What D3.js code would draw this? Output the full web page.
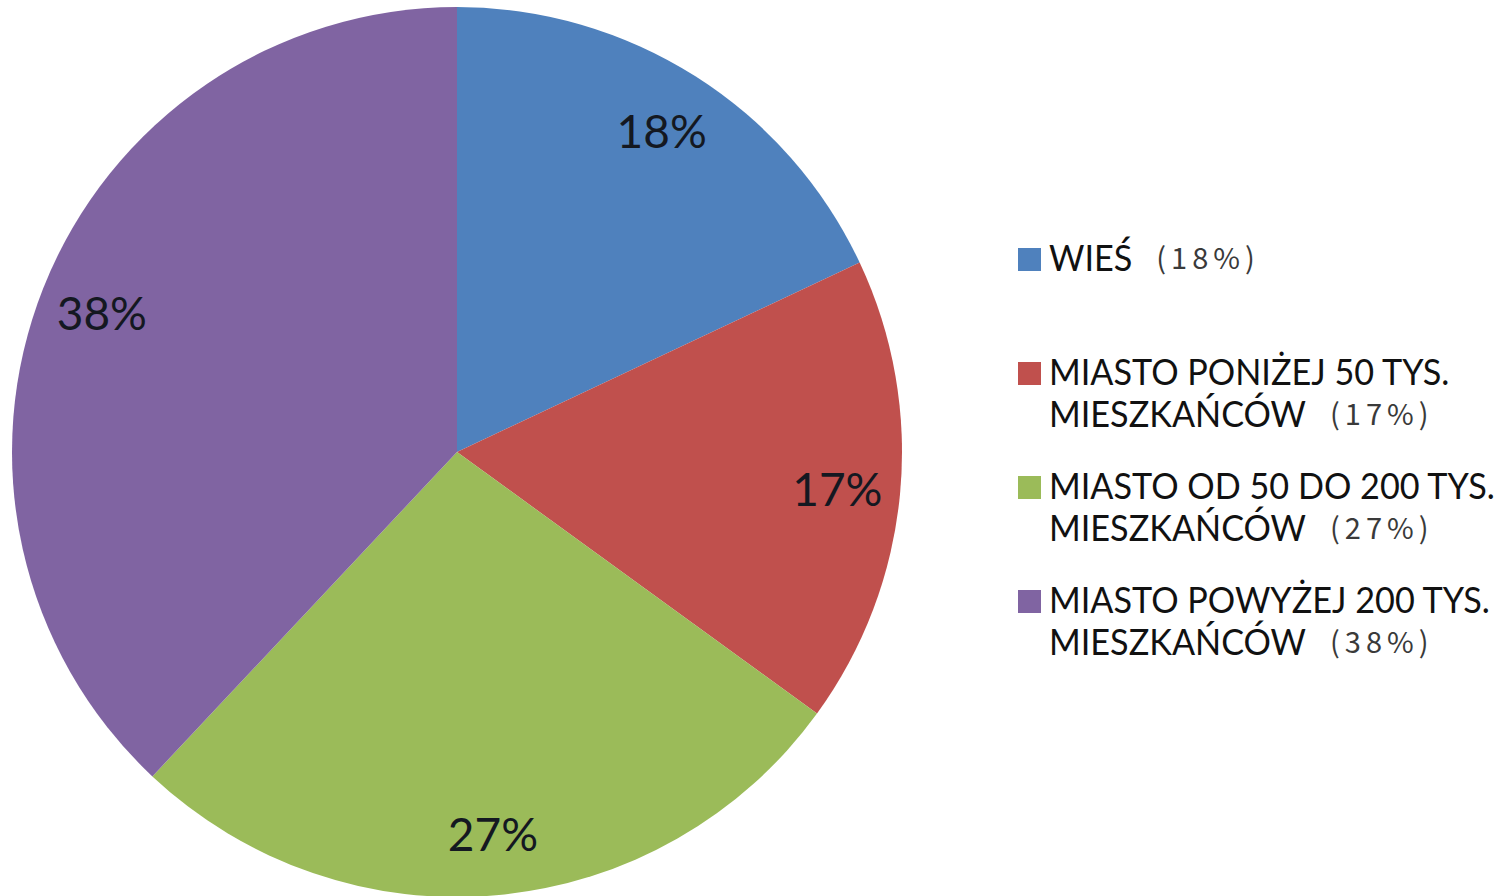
<!DOCTYPE html>
<html>
<head>
<meta charset="utf-8">
<script src="https://cdn.jsdelivr.net/npm/d3@7"></script>
<style>
  html, body { margin: 0; padding: 0; background: #fff; }
  svg { display: block; }
</style>
</head>
<body>
<div id="chart"></div>
<script>
// data
const categories = ["WIEŚ", "MIASTO PONIŻEJ 50 TYS. MIESZKAŃCÓW", "MIASTO OD 50 DO 200 TYS. MIESZKAŃCÓW", "MIASTO POWYŻEJ 200 TYS. MIESZKAŃCÓW"];
const legendLines = [
  ["WIEŚ"],
  ["MIASTO PONIŻEJ 50 TYS.", "MIESZKAŃCÓW"],
  ["MIASTO OD 50 DO 200 TYS.", "MIESZKAŃCÓW"],
  ["MIASTO POWYŻEJ 200 TYS.", "MIESZKAŃCÓW"]
];
const values = [18, 17, 27, 38];
const colors = ["#4F81BD", "#C0504D", "#9BBB59", "#8064A2"];

const width = 1499;
const height = 896;
const cx = 457, cy = 452, radius = 445;

const svg = d3.select("#chart")
  .append("svg")
  .attr("width", width)
  .attr("height", height)
  .attr("viewBox", [0, 0, width, height]);

const data = categories.map((c, i) => ({ name: c, value: values[i], lines: legendLines[i] }));

const color = d3.scaleOrdinal().domain(categories).range(colors);

const pie = d3.pie()
  .sort(null)
  .value(d => d.value);

const arc = d3.arc().innerRadius(0).outerRadius(radius);
const labelArc = d3.arc().innerRadius(382).outerRadius(382);

const g = svg.append("g").attr("transform", `translate(${cx},${cy})`);

const arcs = pie(data);

g.selectAll("path")
  .data(arcs)
  .join("path")
  .attr("d", arc)
  .attr("fill", d => color(d.data.name));

g.selectAll("text")
  .data(arcs)
  .join("text")
  .attr("transform", d => `translate(${labelArc.centroid(d)})`)
  .attr("text-anchor", "middle")
  .attr("dy", "0.4em")
  .attr("font-family", "Lato, 'Open Sans', sans-serif")
  .attr("font-size", 46)
  .attr("fill", "#141821")
  .text(d => d.value + "%");

// legend
const ly = d3.scalePoint().domain(categories).range([271, 613]);
const lineH = 42;
const squeeze = 0.925; // legend font is narrower in the original

const legend = svg.append("g")
  .selectAll("g")
  .data(data)
  .join("g")
  .attr("transform", d => `translate(1018,${ly(d.name)})`);

legend.append("rect")
  .attr("x", 0)
  .attr("y", -23)
  .attr("width", 23)
  .attr("height", 23)
  .attr("fill", d => color(d.name));

legend.each(function (d) {
  const item = d3.select(this);
  const txt = item.append("g").attr("transform", `translate(31,0) scale(${squeeze},1)`);
  let lastLen = 0;
  d.lines.forEach((line, j) => {
    const t = txt.append("text")
      .attr("x", 0)
      .attr("y", j * lineH)
      .attr("font-family", "Lato, 'Open Sans', sans-serif")
      .attr("font-size", 37)
      .attr("fill", "#111")
      .text(line);
    lastLen = t.node().getComputedTextLength() * squeeze;
  });
  item.append("text")
    .attr("x", 31 + lastLen + 24)
    .attr("y", (d.lines.length - 1) * lineH - 2)
    .attr("font-family", "'Noto Sans CJK SC', sans-serif")
    .attr("font-size", 29)
    .attr("letter-spacing", 5)
    .attr("fill", "#3a3a3a")
    .text("(" + d.value + "%)");
});
</script>
</body>
</html>
